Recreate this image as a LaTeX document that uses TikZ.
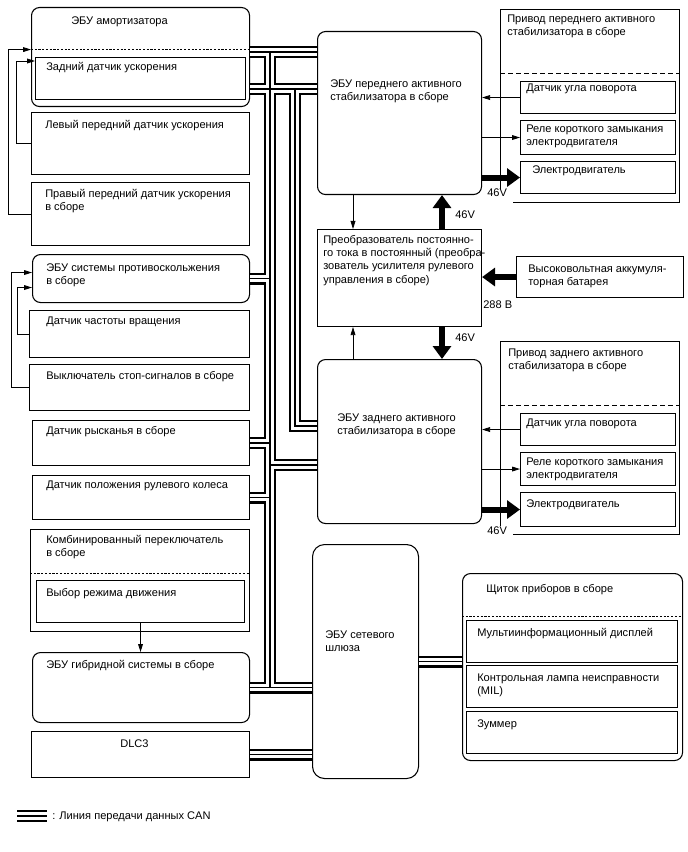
\documentclass[tikz,border=0pt]{standalone}
\usepackage{fontspec}
\setmainfont{Liberation Sans}
\usepackage{tikz}
\usetikzlibrary{arrows.meta}
\usetikzlibrary{shapes,arrows}
\tikzstyle{box} = [draw, line width=0.8pt, anchor=north west, inner sep=0pt]
\tikzstyle{rbox} = [box, rounded corners=6pt]
\tikzstyle{txt} = [anchor=base west, inner sep=0pt, align=left]
\tikzstyle{sig} = [line width=0.6pt,-{Triangle[length=6pt,width=3.6pt]}]
\tikzstyle{pwr} = [line width=4.5pt,-{Triangle[length=9.75pt,width=13.5pt]}]
\tikzstyle{dotline} = [line width=0.7pt, dash pattern=on 1.6pt off 1.2pt]
\tikzstyle{dashline} = [line width=0.7pt, dash pattern=on 3.75pt off 2.25pt]
\tikzset{sz/.style 2 args={minimum width=#1*0.75pt, minimum height=#2*0.75pt}}

\begin{document}
\begin{tikzpicture}[x=0.75pt, y=-0.75pt, font=\fontsize{8.3pt}{10.1pt}\selectfont]
\useasboundingbox (0,0) rectangle (688,852);

% left column
\node[rbox, sz={218}{99}] (shock) at (31,7) {};
\node[box, sz={210}{42}] (shockin) at (35,57) {};
\node[box, sz={218}{62}] (leftacc) at (31,112) {};
\node[box, sz={218}{63}] (rightacc) at (31,182) {};
\node[rbox, sz={217}{48}] (skid) at (32,254) {};
\node[box, sz={220}{47}] (speed) at (29,310) {};
\node[box, sz={220}{46}] (stopsw) at (29,364) {};
\node[box, sz={217}{45}] (yaw) at (32,420) {};
\node[box, sz={217}{44}] (steer) at (32,475) {};
\node[box, sz={219}{102}] (combsw) at (30,529) {};
\node[box, sz={208}{42}] (drvmode) at (36,580) {};
\node[rbox, sz={217}{70}] (hybrid) at (32,652) {};
\node[box, sz={218}{46}] (dlc) at (31,731) {};

% (multi-line texts sit on the baseline of their last line)
\node[txt] (shockt) at (71,25) {ЭБУ амортизатора};
\node[txt] (shockint) at (46,71) {Задний датчик ускорения};
\node[txt] (leftacct) at (45,129) {Левый передний датчик ускорения};
\node[txt] (rightacct) at (45,210.5) {Правый передний датчик ускорения\\в сборе};
\node[txt] (skidt) at (46,284.5) {ЭБУ системы противоскольжения\\в сборе};
\node[txt] (speedt) at (46,324) {Датчик частоты вращения};
\node[txt] (stopswt) at (46,379) {Выключатель стоп-сигналов в сборе};
\node[txt] (yawt) at (46,434) {Датчик рысканья в сборе};
\node[txt] (steert) at (46,488) {Датчик положения рулевого колеса};
\node[txt] (combswt) at (46,556.5) {Комбинированный переключатель\\в сборе};
\node[txt] (drvmodet) at (46,596) {Выбор режима движения};
\node[txt] (hybridt) at (46,668) {ЭБУ гибридной системы в сборе};
\node[txt] (dlct) at (120,747) {DLC3};

\draw[dotline] ([yshift=5.6pt]shock.west) -- ([yshift=5.6pt]shock.east);
\draw[dotline] ([yshift=5.25pt]combsw.west) -- ([yshift=5.25pt]combsw.east);

% middle column
\node[rbox, sz={164}{163}] (frontecu) at (317,31) {};
\node[box, sz={164}{97}] (conv) at (317,229) {};
\node[rbox, sz={164}{164}] (rearecu) at (317,359) {};
\node[rbox, rounded corners=9pt, sz={106}{234}] (gateway) at (312,544) {};

\node[txt] (frontecut) at (330,100.5) {ЭБУ переднего активного\\стабилизатора в сборе};
\node[txt] (convt) at (323,283.4) {Преобразователь постоянно-\\го тока в постоянный (преобра-\\зователь усилителя рулевого\\управления в сборе)};
\node[txt] (rearecut) at (337,434.5) {ЭБУ заднего активного\\стабилизатора в сборе};
\node[txt] (gatewayt) at (325,651.5) {ЭБУ сетевого\\шлюза};

% right column
\node[box, sz={179}{193}] (frontact) at (500,9) {};
\node[box, sz={155}{32}] (fangle) at (520,81) {};
\node[box, sz={155}{34}] (frelay) at (520,120) {};
\node[box, sz={155}{32}] (fmotor) at (520,161) {};
\node[box, sz={167}{41}] (battery) at (516,256) {};
\node[box, sz={179}{193}] (rearact) at (500,341) {};
\node[box, sz={155}{32}] (rangle) at (520,413) {};
\node[box, sz={155}{33}] (rrelay) at (520,452) {};
\node[box, sz={155}{34}] (rmotor) at (520,492) {};
\node[rbox, sz={220}{187}] (meter) at (462,573) {};
\node[box, sz={211}{42}] (mid) at (466,620) {};
\node[box, sz={211}{42}] (mil) at (466,665) {};
\node[box, sz={211}{42}] (buzzer) at (466,711) {};

\node[txt] (frontactt) at (507,35.5) {Привод переднего активного\\стабилизатора в сборе};
\node[txt] (fanglet) at (526,92) {Датчик угла поворота};
\node[txt] (frelayt) at (526,145.5) {Реле короткого замыкания\\электродвигателя};
\node[txt] (fmotort) at (532,174) {Электродвигатель};
\node[txt] (batteryt) at (528,285.5) {Высоковольтная аккумуля-\\торная батарея};
\node[txt] (rearactt) at (508,369.5) {Привод заднего активного\\стабилизатора в сборе};
\node[txt] (ranglet) at (526,426) {Датчик угла поворота};
\node[txt] (rrelayt) at (526,478.5) {Реле короткого замыкания\\электродвигателя};
\node[txt] (rmotort) at (526,507) {Электродвигатель};
\node[txt] (metert) at (486,592) {Щиток приборов в сборе};
\node[txt] (midt) at (477,636) {Мультиинформационный дисплей};
\node[txt] (milt) at (477,694.5) {Контрольная лампа неисправности\\(MIL)};
\node[txt] (buzzert) at (477,727) {Зуммер};

\draw[dashline] ([yshift=24.4pt]frontact.west) -- ([yshift=24.4pt]frontact.east);
\draw[dashline] ([yshift=24.4pt]rearact.west) -- ([yshift=24.4pt]rearact.east);
\draw[dotline] ([yshift=37.9pt]meter.west) -- ([yshift=37.9pt]meter.east);

% signal lines
\draw[sig] (rightacc.west) -- ++(-23,0) |- ([yshift=5.6pt]shock.west);
\draw[sig] (leftacc.west) -- ++(-15,0) |- ([yshift=-3pt]shockin.north west);
\draw[sig] (stopsw.west) -- ++(-18,0) |- ([yshift=4.5pt]skid.west);
\draw[sig] (speed.west) -- ++(-12,0) |- ([yshift=-6.75pt]skid.west);
\draw[sig] (drvmode.south) -- (drvmode.south |- hybrid.north);

\draw[sig] ([xshift=27pt]frontecu.south west) -- ([xshift=27pt]conv.north west);
\draw[sig] ([xshift=27pt]rearecu.north west) -- ([xshift=27pt]conv.south west);
\draw[sig] (fangle.west) -- (fangle.west -| frontecu.east);
\draw[sig] (frelay.west -| frontecu.east) -- (frelay.west);
\draw[sig] (rangle.west) -- (rangle.west -| rearecu.east);
\draw[sig] (rrelay.west -| rearecu.east) -- (rrelay.west);

% 46V / 288 V
\draw[pwr] ([xshift=93.75pt]conv.north west) -- ([xshift=93.75pt]frontecu.south west);
\draw[pwr] ([xshift=93.75pt]conv.south west) -- ([xshift=93.75pt]rearecu.north west);
\draw[pwr] (battery.west) -- (battery.west -| conv.east);
\draw[pwr] (fmotor.west -| frontecu.east) -- (fmotor.west);
\draw[pwr] (rmotor.west -| rearecu.east) -- (rmotor.west);

\node[txt] (v1) at (455,219) {46V};
\node[txt] (v2) at (455,341) {46V};
\node[txt] (v3) at (483,308) {288 В};
\node[txt, fill=white, text width=19pt, text depth=6pt] (v4) at (487,197) {46V};
\node[txt, fill=white, text width=19pt, text depth=6pt] (v5) at (487,534) {46V};

% CAN
\coordinate (ta1) at (270,52);
\coordinate (tb1) at (295,89);
\coordinate (tb2) at (295,426);
\coordinate (ta3) at (270,465);
\coordinate (lg1) at (17,816);
\coordinate (lg2) at (47,816);
\foreach \w/\c in {9pt/black, 5.6pt/white, 1.1pt/black}
  \draw[line width=\w, \c]
    (shock.east |- ta1) -- (frontecu.west |- ta1)
    (shock.east |- tb1) -- (frontecu.west |- tb1)
    (ta1) -- (ta1 |- hybrid.east)
    (tb1) -- (tb2) -- (rearecu.west |- tb2)
    (skid.east) -- (skid.east -| ta1)
    (yaw.east) -- (yaw.east -| ta1)
    (steer.east) -- (steer.east -| ta1)
    (ta3) -- (rearecu.west |- ta3)
    (hybrid.east) -- (gateway.west |- hybrid.east)
    (dlc.east) -- (gateway.west |- dlc.east)
    (gateway.east) -- (meter.west |- gateway.east)
    (lg1) -- (lg2);
\node[txt] (legt) at (52,819) {: Линия передачи данных CAN};

\end{tikzpicture}
\end{document}
